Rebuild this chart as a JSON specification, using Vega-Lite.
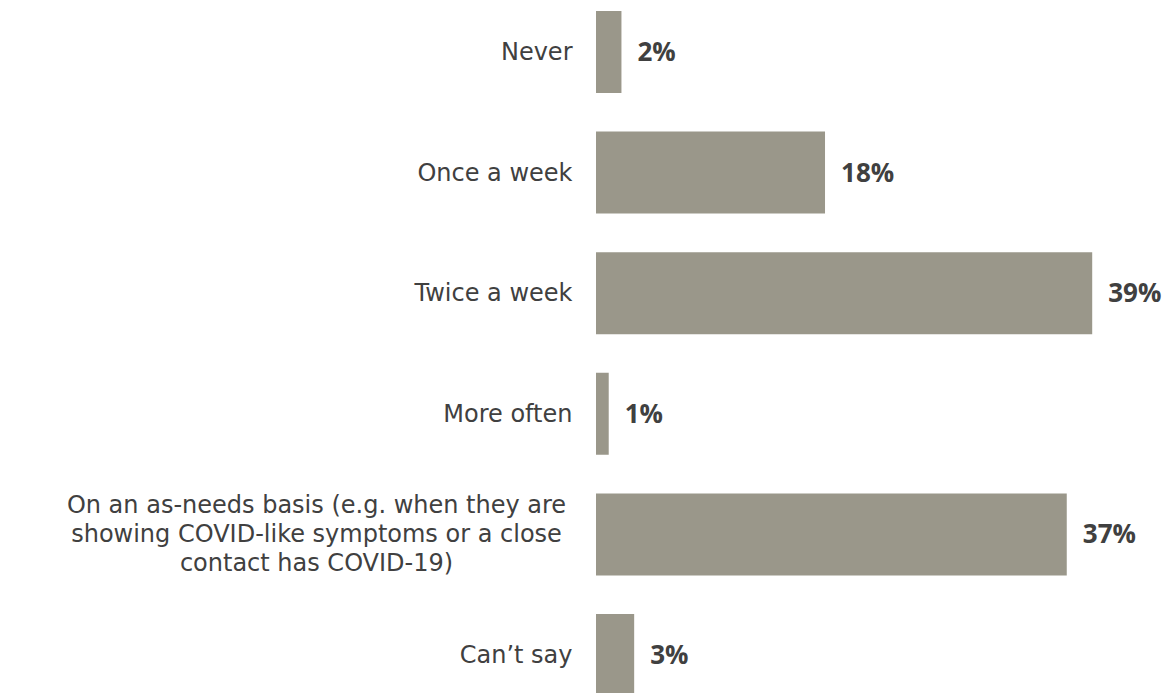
{
  "$schema": "https://vega.github.io/schema/vega-lite/v6.json",
  "autosize": "none",
  "padding": {"left": 596, "top": 0, "right": 0, "bottom": 0},
  "width": 570,
  "height": 707,
  "background": "white",
  "data": {"values": [
    {"label": "Never", "value": 2},
    {"label": "Once a week", "value": 18},
    {"label": "Twice a week", "value": 39},
    {"label": "More often", "value": 1},
    {"label": "On an as-needs basis (e.g. when they are|showing COVID-like symptoms or a close|contact has COVID-19)", "value": 37},
    {"label": "Can’t say", "value": 3}
  ]},
  "transform": [{"calculate": "datum.value + '%'", "as": "pct"}],
  "encoding": {
    "y": {"field": "label", "type": "nominal", "sort": null,
      "scale": {"paddingInner": 0.32, "paddingOuter": 0.091},
      "axis": {"title": null, "ticks": false, "domain": false,
        "labelPadding": {"condition": {"test": "indexof(datum.value, 'as-needs') >= 0", "value": 280}, "value": 24},
        "labelAlign": {"condition": {"test": "indexof(datum.value, 'as-needs') >= 0", "value": "center"}, "value": "right"},
        "labelOffset": {"condition": {"test": "indexof(datum.value, 'as-needs') >= 0", "value": -28}, "value": 1},
        "labelFont": "DejaVu Sans", "labelFontSize": 24, "labelColor": "#404040",
        "labelExpr": "split(datum.label, '|')", "labelLineHeight": 29, "labelLimit": 700}},
    "x": {"field": "value", "type": "quantitative", "scale": {"domain": [0, 44.8], "nice": false},
      "axis": null}
  },
  "layer": [
    {"mark": {"type": "bar", "color": "#9a978a"}},
    {"mark": {"type": "text", "align": "left", "baseline": "middle", "dx": 16, "dy": 1,
      "font": "Open Sans", "fontWeight": "bold", "fontSize": 26, "color": "#404040"},
     "encoding": {"text": {"field": "pct", "type": "nominal"}}}
  ],
  "config": {"view": {"stroke": null}}
}
